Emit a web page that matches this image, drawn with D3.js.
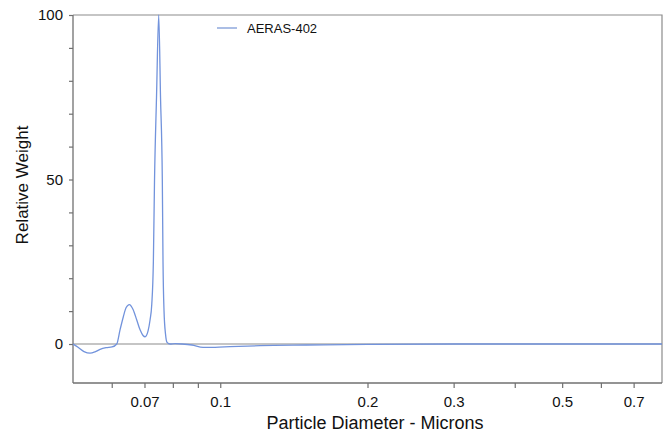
<!DOCTYPE html>
<html>
<head>
<meta charset="utf-8">
<script src="https://cdn.jsdelivr.net/npm/d3@7"></script>
<style>
  body { margin: 0; background: #fff; }
  text { font-family: "Liberation Sans", Arial, sans-serif; fill: #111; }
</style>
</head>
<body>
<div class="chart"></div>
<script>
// particle diameter (microns) and relative weight
var diameters = [0.05, 0.0512, 0.05266, 0.05418, 0.05546, 0.0568, 0.05841, 0.06008, 0.06143,
  0.06239, 0.06337, 0.06418, 0.06519, 0.06634, 0.0675, 0.06856, 0.06953, 0.07019, 0.07119,
  0.07186, 0.07244, 0.07299, 0.07339, 0.07408, 0.07485, 0.07549, 0.07613, 0.07638, 0.07675,
  0.07729, 0.07784, 0.07895, 0.08083, 0.08354, 0.08756, 0.09222, 0.09758, 0.1047, 0.1206,
  0.15, 0.2, 0.3, 0.5, 0.8];
var weights = [0, -1.0, -2.3, -2.8, -2.4, -1.6, -1.1, -0.9, 0,
  4.3, 8.3, 11, 12, 10.5, 7.3, 4.3, 2.6, 2.2, 4,
  7.3, 12, 25, 50, 75, 100, 75, 50, 25, 10,
  3, 0.5, 0, 0.1, 0, -0.3, -1.0, -1.0, -0.8, -0.5,
  -0.3, -0.1, 0, 0, 0];

var xTicks = [0.06, 0.07, 0.08, 0.09, 0.1, 0.2, 0.3, 0.4, 0.5, 0.6, 0.7];
var xLabels = [0.07, 0.1, 0.2, 0.3, 0.5, 0.7];
var yTicks = [0, 10, 20, 30, 40, 50, 60, 70, 80, 90, 100];
var yLabels = [0, 50, 100];
var seriesName = "AERAS-402";

var svgWidth = 668;
var svgHeight = 435;
var margin = { top: 15, right: 6, bottom: 52, left: 73 };
var width = svgWidth - margin.left - margin.right;
var height = svgHeight - margin.top - margin.bottom;

var svg = d3.select(".chart")
  .append("svg")
  .attr("width", svgWidth)
  .attr("height", svgHeight);

var chartGroup = svg.append("g")
  .attr("transform", `translate(${margin.left}, ${margin.top})`);

var xScale = d3.scaleLog()
  .domain([0.05, 0.8])
  .range([0, width]);

var yScale = d3.scaleLinear()
  .domain([-11.85, 100])
  .range([height, 0]);

// frame (top and right)
chartGroup.append("path")
  .attr("d", `M0,0H${width}V${height}`)
  .attr("fill", "none")
  .attr("stroke", "#8c8c8c")
  .attr("stroke-width", 1.2);

// zero line
chartGroup.append("line")
  .attr("x1", 0).attr("x2", width)
  .attr("y1", yScale(0)).attr("y2", yScale(0))
  .attr("stroke", "#8c8c8c")
  .attr("stroke-width", 1.2);

var bottomAxis = d3.axisBottom(xScale)
  .tickValues(xTicks)
  .tickSize(5)
  .tickPadding(8)
  .tickFormat(d => xLabels.indexOf(d) >= 0 ? String(d) : "");

var leftAxis = d3.axisLeft(yScale)
  .tickValues(yTicks)
  .tickSize(4)
  .tickPadding(6)
  .tickFormat(d => yLabels.indexOf(d) >= 0 ? String(d) : "");

var gx = chartGroup.append("g")
  .attr("transform", `translate(0, ${height})`)
  .call(bottomAxis);

var gy = chartGroup.append("g")
  .call(leftAxis);

[gx, gy].forEach(function (g) {
  g.select(".domain").attr("stroke", "#707070").attr("stroke-width", 1.3);
  g.selectAll(".tick line").attr("stroke", "#707070").attr("stroke-width", 1.2);
  g.selectAll(".tick text")
    .style("font-family", "'Liberation Sans', Arial, sans-serif")
    .style("font-size", "15px")
    .attr("fill", "#111");
});
gx.select(".domain").attr("d", `M0,0H${width}`);
gy.select(".domain").attr("d", `M0,${height}V0`);

// curve
var line = d3.line()
  .x(d => xScale(d[0]))
  .y(d => yScale(d[1]))
  .curve(d3.curveMonotoneX);

chartGroup.append("path")
  .datum(diameters.map((d, i) => [d, weights[i]]))
  .attr("d", line)
  .attr("fill", "none")
  .attr("stroke", "#7293dc")
  .attr("stroke-width", 1.3);

// legend
chartGroup.append("line")
  .attr("x1", 144).attr("x2", 164)
  .attr("y1", 13).attr("y2", 13)
  .attr("stroke", "#8fa8dc")
  .attr("stroke-width", 1.5);

chartGroup.append("text")
  .attr("x", 174)
  .attr("y", 18)
  .style("font-size", "13px")
  .text(seriesName);

// axis labels
chartGroup.append("text")
  .attr("transform", "rotate(-90)")
  .attr("x", 0 - 170)
  .attr("y", 0 - margin.left + 28)
  .attr("text-anchor", "middle")
  .style("font-size", "17px")
  .text("Relative Weight");

chartGroup.append("text")
  .attr("x", 302)
  .attr("y", height + 46)
  .attr("text-anchor", "middle")
  .style("font-size", "18px")
  .text("Particle Diameter - Microns");
</script>
</body>
</html>
